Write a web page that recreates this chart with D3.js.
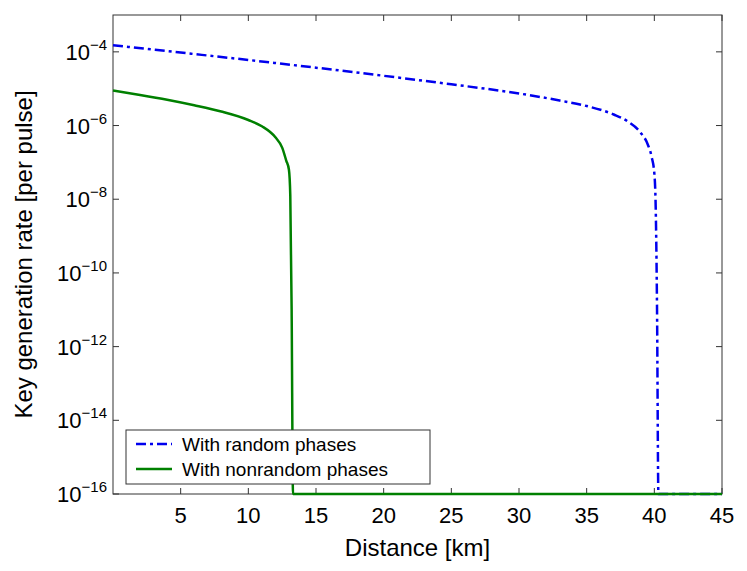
<!DOCTYPE html>
<html><head><meta charset="utf-8">
<script src="https://cdn.jsdelivr.net/npm/d3@7"></script>
<style>body{margin:0;background:#fff}text{font-family:"Liberation Sans",Arial,sans-serif}</style>
</head><body><svg id="chart" width="747" height="571"></svg>
<script>
// distance (km) and log10 of key rate
const randomX = [0, 5, 10, 15, 20, 25, 30, 33, 35, 37, 38, 39, 39.5, 39.8, 40, 40.1, 40.2, 40.3, 45];
const randomY = [-3.82, -4.02, -4.22, -4.43, -4.65, -4.88, -5.13, -5.32, -5.47, -5.7, -5.88, -6.2, -6.5, -6.85, -7.3, -8.2, -11, -16, -16];
const nonrandX = [0, 2, 4, 6, 8, 10, 11, 12, 12.5, 12.8, 13.0, 13.1, 13.2, 13.3, 45];
const nonrandY = [-5.05, -5.17, -5.3, -5.45, -5.62, -5.85, -6.02, -6.32, -6.6, -6.95, -7.2, -7.9, -11, -16, -16];
const xTicks = [5, 10, 15, 20, 25, 30, 35, 40, 45];
const yTicks = [-16, -14, -12, -10, -8, -6, -4];

const svg = d3.select('#chart');
const L = 113, R = 722, T = 15, B = 494;
const x = d3.scaleLinear().domain([0, 45]).range([L, R]);
const y = d3.scaleLinear().domain([-16, -3]).range([B, T]);

svg.append('rect').attr('x', L).attr('y', T).attr('width', R - L).attr('height', B - T)
  .attr('fill', 'none').attr('stroke', '#333').attr('stroke-width', 1);

// ticks inward, on both sides
xTicks.forEach(t => {
  svg.append('line').attr('x1', x(t)).attr('x2', x(t)).attr('y1', B).attr('y2', B - 6).attr('stroke', '#333');
  svg.append('line').attr('x1', x(t)).attr('x2', x(t)).attr('y1', T).attr('y2', T + 6).attr('stroke', '#333');
  svg.append('text').attr('x', x(t)).attr('y', B + 29).attr('text-anchor', 'middle')
    .attr('font-size', 22).text(t);
});
yTicks.forEach(t => {
  svg.append('line').attr('x1', L).attr('x2', L + 6).attr('y1', y(t)).attr('y2', y(t)).attr('stroke', '#333');
  svg.append('line').attr('x1', R).attr('x2', R - 6).attr('y1', y(t)).attr('y2', y(t)).attr('stroke', '#333');
  const tx = svg.append('text').attr('x', L - 6).attr('y', y(t) + 8).attr('text-anchor', 'end').attr('font-size', 22);
  tx.append('tspan').text('10');
  tx.append('tspan').attr('dy', -10).attr('font-size', 15).text('\u2212' + Math.abs(t));
});

svg.append('text').attr('x', (L + R) / 2).attr('y', 556).attr('text-anchor', 'middle')
  .attr('font-size', 24).text('Distance [km]');
svg.append('text').attr('transform', `translate(32,${(T + B) / 2}) rotate(-90)`)
  .attr('text-anchor', 'middle').attr('font-size', 24).text('Key generation rate [per pulse]');

const line = d3.line().x(d => x(d[0])).y(d => y(d[1])).curve(d3.curveMonotoneX);
const g = svg.append('g');
g.append('path').datum(randomX.map((v, i) => [v, randomY[i]])).attr('d', line)
  .attr('fill', 'none').attr('stroke', '#0000ee').attr('stroke-width', 2.5).attr('stroke-dasharray', '10,4,3,4');
g.append('path').datum(nonrandX.map((v, i) => [v, nonrandY[i]])).attr('d', line)
  .attr('fill', 'none').attr('stroke', '#008000').attr('stroke-width', 2.5);

// legend
const lg = svg.append('g').attr('transform', 'translate(126,430)');
lg.append('rect').attr('width', 304).attr('height', 54).attr('fill', '#fff').attr('stroke', '#333');
const items = [['With random phases', '#0000ee', '10,4,3,4'], ['With nonrandom phases', '#008000', null]];
items.forEach((it, i) => {
  const yy = 14 + i * 25;
  lg.append('line').attr('x1', 10).attr('x2', 46).attr('y1', yy).attr('y2', yy)
    .attr('stroke', it[1]).attr('stroke-width', 2.5).attr('stroke-dasharray', it[2]);
  lg.append('text').attr('x', 56).attr('y', yy + 7).attr('font-size', 19).text(it[0]);
});
</script></body></html>
